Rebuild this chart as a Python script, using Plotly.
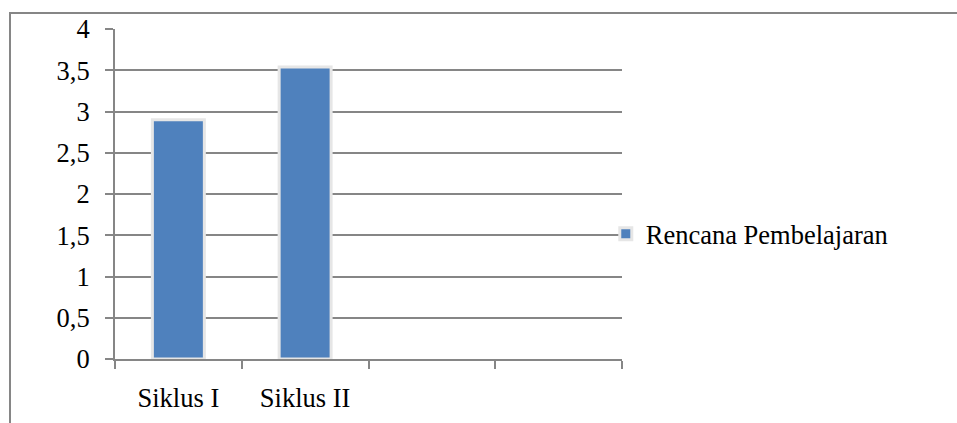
import plotly.graph_objects as go

# Chart data
categories = ["Siklus I", "Siklus II", " ", "  "]
values = [2.9, 3.54, None, None]
series_name = "Rencana Pembelajaran"
y_tick_values = [0, 0.5, 1, 1.5, 2, 2.5, 3, 3.5, 4]
y_tick_labels = ["0", "0,5", "1", "1,5", "2", "2,5", "3", "3,5", "4"]

GRAY = "#868686"
FONT = "Liberation Serif, Times New Roman, serif"
FS = 26.5

fig = go.Figure()
fig.add_trace(go.Bar(
    x=categories,
    y=values,
    name=series_name,
    width=0.41,
    marker=dict(color="#4F81BD", line=dict(color="#e6e6e6", width=3)),
    showlegend=True,
))

# plot area in pixels: x 115..622, y 29..359
L, R, T, B = 115, 957 - 622, 29, 423 - 359
pw, ph = 957 - L - R, 423 - T - B

fig.update_layout(
    width=957, height=423,
    margin=dict(l=L, r=R, t=T, b=B, pad=0, autoexpand=False),
    paper_bgcolor="white", plot_bgcolor="white",
    font=dict(family=FONT, size=FS, color="black"),
    legend=dict(
        x=0.968, y=(359 - 234) / ph, xanchor="left", yanchor="middle",
        font=dict(family=FONT, size=FS, color="black"),
        bgcolor="rgba(0,0,0,0)", borderwidth=0,
    ),
    xaxis=dict(
        type="category", automargin=False,
        categoryorder="array", categoryarray=categories,
        range=[-0.5, 3.5],
        showgrid=False, zeroline=False,
        showline=True, linecolor=GRAY, linewidth=2,
        ticks="outside", tickson="boundaries", ticklen=8,
        tickcolor=GRAY, tickwidth=1.5,
        ticklabelstandoff=14,
        tickfont=dict(family=FONT, size=FS, color="black"),
    ),
    yaxis=dict(
        range=[0, 4], automargin=False,
        tickvals=y_tick_values, ticktext=y_tick_labels,
        showgrid=True, gridcolor=GRAY, gridwidth=1.5,
        zeroline=False,
        showline=True, linecolor=GRAY, linewidth=2,
        ticks="outside", ticklen=8, tickcolor=GRAY, tickwidth=1.5,
        ticklabelstandoff=10,
        tickfont=dict(family=FONT, size=FS, color="black"),
    ),
    shapes=[
        # outer chart frame (extends past right and bottom edges)
        dict(type="rect", xref="paper", yref="paper",
             x0=(10 - L) / pw, x1=(1100 - L) / pw,
             y0=-(B + 40) / ph, y1=1 + (T - 13) / ph,
             line=dict(color=GRAY, width=2), fillcolor="rgba(0,0,0,0)",
             layer="below"),
    ],
)

fig.write_html("out.html")
